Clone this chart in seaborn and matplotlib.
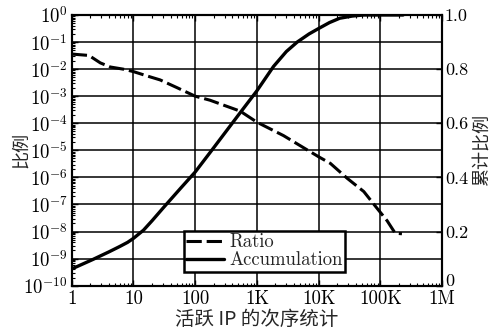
import matplotlib
matplotlib.use("Agg")
import matplotlib.pyplot as plt
import matplotlib.ticker as mticker
import matplotlib.transforms as mtransforms
import pandas as pd
import seaborn as sns

# ratio of each active IP, by rank
ratio_rank = [1, 1.9, 2.9, 4.2, 6.8, 10, 16.6, 27, 50, 100, 174, 537, 1000,
              2700, 5000, 10000, 15500, 29000, 54000, 87000, 129000, 174000, 224000]
ratio_val = [3.6e-2, 3.2e-2, 1.7e-2, 1.2e-2, 1.0e-2, 8.1e-3, 5.6e-3, 4.0e-3, 2.1e-3,
             1.0e-3, 7.1e-4, 2.8e-4, 1.1e-4, 3.5e-5, 1.5e-5, 5.8e-6, 3.3e-6, 9.3e-7,
             3.0e-7, 7.6e-8, 2.5e-8, 8.7e-9, 8.3e-9]

# cumulative ratio
acc_rank = [1, 2.2, 4, 6, 8, 10, 14.5, 20, 31, 58, 100, 200, 500, 1000,
            1860, 3000, 4500, 7000, 10000, 15000, 22000, 35000, 54000, 234000]
acc_val = [0.062, 0.097, 0.125, 0.145, 0.16, 0.175, 0.205, 0.24, 0.29, 0.36,
           0.42, 0.51, 0.63, 0.72, 0.81, 0.865, 0.90, 0.93, 0.95, 0.972, 0.988,
           0.996, 1.0, 1.0]

x_ticks = [1, 10, 100, 1e3, 1e4, 1e5, 1e6]
x_labels = ["1", "10", "100", "1K", "10K", "100K", "1M"]
right_ticks = [0, 0.2, 0.4, 0.6, 0.8, 1.0]
right_labels = ["0", "0.2", "0.4", "0.6", "0.8", "1.0"]

sns.set_theme(style="white")
plt.rcParams["font.family"] = ["cmr10", "DejaVu Serif"]
plt.rcParams["mathtext.fontset"] = "cm"
plt.rcParams["axes.unicode_minus"] = False
cjk = ["Noto Sans CJK SC", "DejaVu Sans"]
fs = 13.5

ratio_df = pd.DataFrame({"rank": ratio_rank, "value": ratio_val})
acc_df = pd.DataFrame({"rank": acc_rank, "value": acc_val})

fig = plt.figure(figsize=(4.95, 3.33), dpi=100)
ax = fig.add_axes([0.145, 0.142, 0.748, 0.813])
ax2 = ax.twinx()

sns.lineplot(data=ratio_df, x="rank", y="value", ax=ax, color="black",
             linewidth=2.2, label="Ratio", legend=False)
ax.lines[0].set_dashes([5, 1.6])
sns.lineplot(data=acc_df, x="rank", y="value", ax=ax2, color="black",
             linewidth=2.4, label="Accumulation", legend=False)

ax.set_xscale("log")
ax.set_yscale("log")
ax.set_xlim(1, 1e6)
ax.set_ylim(1e-10, 1)
ax2.set_ylim(0, 1)

ax.set_xticks(x_ticks)
ax.set_xticklabels(x_labels, fontsize=fs)
yt = [10.0 ** (-k) for k in range(0, 11)]
ax.set_yticks(yt)
ax.set_yticklabels([r"$10^{%d}$" % (-k) if k else r"$10^{0}$" for k in range(0, 11)],
                   fontsize=fs)
ax.xaxis.set_minor_locator(mticker.LogLocator(base=10, subs=range(2, 10), numticks=20))
ax.yaxis.set_minor_locator(mticker.LogLocator(base=10, subs=range(2, 10), numticks=20))
ax.xaxis.set_minor_formatter(mticker.NullFormatter())
ax.yaxis.set_minor_formatter(mticker.NullFormatter())
ax2.set_yticks(right_ticks)
ax2.set_yticklabels(right_labels, fontsize=13)
# the bottom "0" sits right at the corner, just above "1M"
zero = ax2.get_yticklabels()[0]
zero.set_va("baseline")
zero.set_transform(zero.get_transform()
                   + mtransforms.ScaledTranslation(0, -0.03, fig.dpi_scale_trans))

ax.grid(True, which="major", color="black", linewidth=1.1)
ax.tick_params(which="both", direction="in", top=True, bottom=True, left=True,
               right=False, colors="black", pad=3)
ax.tick_params(which="major", length=4, width=1)
ax.tick_params(which="minor", length=2.5, width=0.8)
ax2.tick_params(which="both", direction="in", right=True, length=4, width=1,
                colors="black", pad=2)

for a in (ax, ax2):
    for s in a.spines.values():
        s.set_color("black")
        s.set_linewidth(1.5)

ax.set_xlabel("活跃 IP 的次序统计", family=cjk, fontsize=14, labelpad=1)
ax.set_ylabel("比例", family=cjk, fontsize=13)
ax.yaxis.set_label_coords(-0.113, 0.5)
ax2.set_ylabel("累计比例", family=cjk, fontsize=13)
ax2.yaxis.set_label_coords(1.083, 0.5)

handles = [ax.lines[0], ax2.lines[0]]
leg = ax2.legend(handles, ["Ratio", "Accumulation"], loc="lower left",
                 bbox_to_anchor=(0.303, 0.052), borderaxespad=0, fontsize=fs,
                 frameon=True, fancybox=False, framealpha=1, edgecolor="black",
                 handlelength=2.0, handletextpad=0.3, borderpad=0.12,
                 labelspacing=0.0)
leg.get_frame().set_linewidth(1.8)

fig.savefig("out.png", dpi=100)
